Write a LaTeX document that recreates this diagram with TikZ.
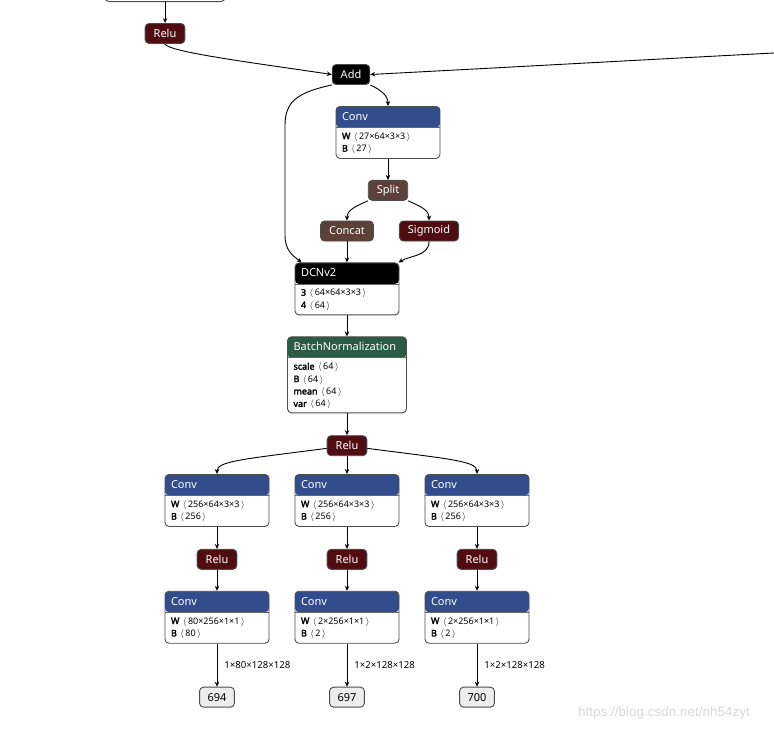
\documentclass[tikz,border=0pt]{standalone}
\usepackage{fontspec}
\setmainfont{Noto Sans}[AutoFakeBold=2.5]
\newfontfamily\wmfont{Liberation Sans}
\usetikzlibrary{positioning,arrows.meta}
\definecolor{convblue}{HTML}{334D8C}
\definecolor{actred}{HTML}{4F0D12}
\definecolor{shapebrown}{HTML}{5D4037}
\definecolor{normgreen}{HTML}{2B5B45}
\newcommand{\dims}[1]{\hspace{3.5pt}$\langle\,$#1$\,\rangle$}
\begin{document}
\begin{tikzpicture}[x=1pt, y=-1pt, line width=0.9pt, >={Stealth[length=5pt,width=4.5pt]},
    op/.style={rectangle, rounded corners=4pt, draw=black!70, text=white, minimum height=20pt, inner xsep=8.5pt, inner ysep=0pt, font=\fontsize{11}{12}\selectfont},
    act/.style={op, fill=actred},
    shp/.style={op, fill=shapebrown},
    box/.style={rectangle, rounded corners=4pt, draw=black!70, fill=white, minimum width=104pt, minimum height=52pt, inner sep=0pt,
        path picture={\fill[#1] (path picture bounding box.north west) rectangle ([yshift=-21pt]path picture bounding box.north east);
            \draw[black!60, line width=0.7pt] ([yshift=-21pt]path picture bounding box.north west) -- ([yshift=-21pt]path picture bounding box.north east);}},
    ttl/.style={anchor=west, text=white, inner sep=0pt, font=\fontsize{11}{12}\selectfont},
    att/.style={anchor=north west, align=left, inner sep=0pt, font=\fontsize{9}{12.4}\selectfont},
    result/.style={rectangle, rounded corners=4pt, draw=black!70, fill=black!7, minimum height=20pt, inner xsep=8pt, inner ysep=0pt, font=\fontsize{11}{12}\selectfont},
    lbl/.style={right, inner sep=0pt, xshift=7pt, font=\fontsize{9.6}{10}\selectfont}]
  \useasboundingbox (0,0) rectangle (774,731);
  \clip (0,0) rectangle (774,731);

  % block above, cut off by the page
  \node[rectangle, rounded corners=4pt, draw=black!70, minimum width=120pt, minimum height=30pt, anchor=south] (prev) at (165,2) {};
  \coordinate (skip) at (774,53);

  \node[act] (relu0) at (165,33.5) {Relu};
  \node[op, fill=black] (add) at (351,74.5) {Add};

  \node[box=convblue, anchor=north] (conv0) at (388,106) {};
  \node[ttl] (conv0t) at ([xshift=6pt,yshift=-10.5pt]conv0.north west) {Conv};
  \node[att] (conv0a) at ([xshift=6pt,yshift=-26pt]conv0.north west) {\textbf{W}\dims{27×64×3×3}\\\textbf{B}\dims{27}};

  \node[shp] (split) [below=21pt of conv0] {Split};
  \node[shp] (concat) at (347,231) {Concat};
  \node[act] (sigmoid) at (429,231) {Sigmoid};

  \node[box=black] (dcn) [below=21pt of concat] {};
  \node[ttl] (dcnt) at ([xshift=6pt,yshift=-10.5pt]dcn.north west) {DCNv2};
  \node[att] (dcna) at ([xshift=6pt,yshift=-26pt]dcn.north west) {\textbf{3}\dims{64×64×3×3}\\\textbf{4}\dims{64}};

  \node[box=normgreen, minimum width=119pt, minimum height=76pt] (bn) [below=21pt of dcn] {};
  \node[ttl] (bnt) at ([xshift=6pt,yshift=-10.5pt]bn.north west) {BatchNormalization};
  \node[att] (bna) at ([xshift=6pt,yshift=-26pt]bn.north west) {\textbf{scale}\dims{64}\\\textbf{B}\dims{64}\\\textbf{mean}\dims{64}\\\textbf{var}\dims{64}};

  \node[act] (relu1) [below=22pt of bn] {Relu};

  % three heads
  \node[box=convblue, anchor=north] (conv1) at (217,474) {};
  \node[ttl] (conv1t) at ([xshift=6pt,yshift=-10.5pt]conv1.north west) {Conv};
  \node[att] (conv1a) at ([xshift=6pt,yshift=-26pt]conv1.north west) {\textbf{W}\dims{256×64×3×3}\\\textbf{B}\dims{256}};
  \node[box=convblue, anchor=north] (conv2) at (347,474) {};
  \node[ttl] (conv2t) at ([xshift=6pt,yshift=-10.5pt]conv2.north west) {Conv};
  \node[att] (conv2a) at ([xshift=6pt,yshift=-26pt]conv2.north west) {\textbf{W}\dims{256×64×3×3}\\\textbf{B}\dims{256}};
  \node[box=convblue, anchor=north] (conv3) at (477,474) {};
  \node[ttl] (conv3t) at ([xshift=6pt,yshift=-10.5pt]conv3.north west) {Conv};
  \node[att] (conv3a) at ([xshift=6pt,yshift=-26pt]conv3.north west) {\textbf{W}\dims{256×64×3×3}\\\textbf{B}\dims{256}};

  \node[act] (relu2) [below=22pt of conv1] {Relu};
  \node[act] (relu3) [below=22pt of conv2] {Relu};
  \node[act] (relu4) [below=22pt of conv3] {Relu};

  \node[box=convblue] (conv4) [below=21pt of relu2] {};
  \node[ttl] (conv4t) at ([xshift=6pt,yshift=-10.5pt]conv4.north west) {Conv};
  \node[att] (conv4a) at ([xshift=6pt,yshift=-26pt]conv4.north west) {\textbf{W}\dims{80×256×1×1}\\\textbf{B}\dims{80}};
  \node[box=convblue] (conv5) [below=21pt of relu3] {};
  \node[ttl] (conv5t) at ([xshift=6pt,yshift=-10.5pt]conv5.north west) {Conv};
  \node[att] (conv5a) at ([xshift=6pt,yshift=-26pt]conv5.north west) {\textbf{W}\dims{2×256×1×1}\\\textbf{B}\dims{2}};
  \node[box=convblue] (conv6) [below=21pt of relu4] {};
  \node[ttl] (conv6t) at ([xshift=6pt,yshift=-10.5pt]conv6.north west) {Conv};
  \node[att] (conv6a) at ([xshift=6pt,yshift=-26pt]conv6.north west) {\textbf{W}\dims{2×256×1×1}\\\textbf{B}\dims{2}};

  \node[result] (out694) [below=43pt of conv4] {694};
  \node[result] (out697) [below=43pt of conv5] {697};
  \node[result] (out700) [below=43pt of conv6] {700};

  \node[text=black!15, font=\wmfont\fontsize{13.5}{15}\selectfont, inner sep=0pt] (wm) at (664,713) {https://blog.csdn.net/nh54zyt};

  % connectors
  \draw[->] (prev) -- (relu0);
  \draw[->] (relu0.south) .. controls (168,52) and (255,63) .. (add.west);
  \draw[->] (skip) to[out=183,in=3] (add.east);
  \draw[->] (add.south east) to[out=-25,in=90] (conv0.north);
  \draw[->] (add.south west) .. controls (300,92) and (285,100) .. (285,125) -- (285,235) .. controls (285,250) and (292,255) .. ([xshift=7pt]dcn.north west);
  \draw[->] (conv0) -- (split);
  \draw[->] (split.south west) to[out=-155,in=90] (concat.north);
  \draw[->] (split.south east) to[out=-25,in=90] (sigmoid.north);
  \draw[->] (concat) -- (dcn);
  \draw[->] (sigmoid.south) to[out=-90,in=30] ([xshift=-1pt]dcn.north east);
  \draw[->] (dcn) -- (bn);
  \draw[->] (bn) -- (relu1);
  \draw[->] (relu1) .. controls (245,459) and (217,461) .. (conv1.north);
  \draw[->] (relu1) -- (conv2);
  \draw[->] (relu1) .. controls (449,459) and (477,461) .. (conv3.north);
  \draw[->] (conv1) -- (relu2);
  \draw[->] (conv2) -- (relu3);
  \draw[->] (conv3) -- (relu4);
  \draw[->] (relu2) -- (conv4);
  \draw[->] (relu3) -- (conv5);
  \draw[->] (relu4) -- (conv6);
  \draw[->] (conv4) -- node[lbl] (l694) {1×80×128×128} (out694);
  \draw[->] (conv5) -- node[lbl] (l697) {1×2×128×128} (out697);
  \draw[->] (conv6) -- node[lbl] (l700) {1×2×128×128} (out700);
\end{tikzpicture}
\end{document}
